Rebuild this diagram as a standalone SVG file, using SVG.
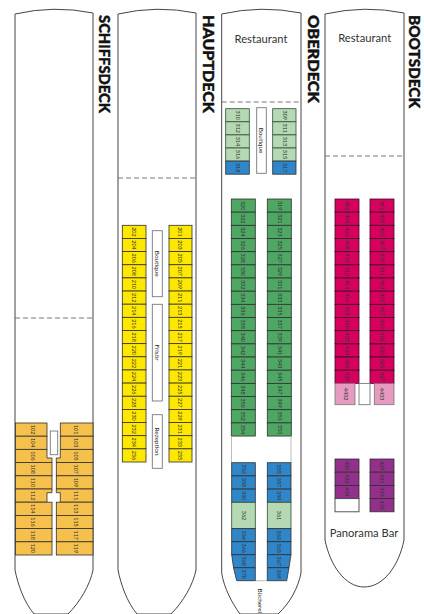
<svg xmlns="http://www.w3.org/2000/svg" width="424" height="614" viewBox="0 0 424 614">
<style>
.hull{fill:#fff;stroke:#444;stroke-width:1}
.dash{fill:none;stroke:#666;stroke-width:.9;stroke-dasharray:5 3}
.box{fill:#fff;stroke:#777;stroke-width:.9}
.inner{fill:none;stroke:#aaa;stroke-width:.8}
.o,.y,.g,.lg,.b,.c,.p,.pk{stroke:#2f2f2f;stroke-width:.8}
.o{fill:#f5c04c}.y{fill:#ffe800}.g{fill:#4fa764}.lg{fill:#b6d9b4;stroke:#2f4f3a}.b{fill:#2f86c9}.c{fill:#d7005f;stroke:#3a0a20}.p{fill:#93308c}.pk{fill:#e79abf;stroke:#777}
text{font-family:"Lato","Liberation Sans",sans-serif}
.n{font-size:5.4px;fill:#333;text-anchor:middle}
.l{font-size:6.4px;fill:#222;text-anchor:middle}
.t{font-size:11.2px;fill:#333;text-anchor:middle}
.h{font-size:14.500px;font-weight:900;fill:#111;stroke:#111;stroke-width:.4}
</style>
<g id="hulls">
<path class="hull" d="M15 14Q54 5 93 13V570C90 585 80 602 68 614H34C24 602 18 585 15 570Z"/>
<path class="hull" d="M118 14Q157 5 196 13V570C193 585 183 602 171 614H137C127 602 121 585 118 570Z"/>
<path class="hull" d="M221.700 14Q261 5 301 13V573C298 588 290 603 278 614H240C232 603 224 588 221.700 573Z"/>
<path class="hull" d="M325 14Q365 5 404 13V540C399 565 384 587 364 587C345 587 330 565 325 540Z"/>
<path class="dash" d="M15 318H93M118 178H196M221.700 102H301M325 156H404"/>
</g>
<g id="deck-titles">
<text id="t-schiffsdeck" class="h" transform="translate(99,15) rotate(90)" textLength="98" lengthAdjust="spacingAndGlyphs">SCHIFFSDECK</text>
<text id="t-hauptdeck" class="h" transform="translate(203,15) rotate(90)" textLength="98" lengthAdjust="spacingAndGlyphs">HAUPTDECK</text>
<text id="t-oberdeck" class="h" transform="translate(307.500,15) rotate(90)" textLength="88" lengthAdjust="spacingAndGlyphs">OBERDECK</text>
<text id="t-bootsdeck" class="h" transform="translate(409,15) rotate(90)" textLength="93" lengthAdjust="spacingAndGlyphs">BOOTSDECK</text>
</g>
<g id="schiffsdeck">
<g id="r102"><rect class="o" x="15.500" y="423" width="31.500" height="13.200"/><text class="n" transform="translate(33,429.600) rotate(90)" y="2">102</text></g>
<g id="r104"><rect class="o" x="15.500" y="436.200" width="31.500" height="13.200"/><text class="n" transform="translate(33,442.800) rotate(90)" y="2">104</text></g>
<g id="r106"><polygon class="o" points="15.500,449.400 47,449.400 47,458 52,458 52,462.600 15.500,462.600"/><text class="n" transform="translate(33,456) rotate(90)" y="2">106</text></g>
<g id="r108"><rect class="o" x="15.500" y="462.600" width="36.500" height="13.200"/><text class="n" transform="translate(33,469.200) rotate(90)" y="2">108</text></g>
<g id="r110"><rect class="o" x="15.500" y="475.800" width="36.500" height="13.200"/><text class="n" transform="translate(33,482.400) rotate(90)" y="2">110</text></g>
<g id="r112"><polygon class="o" points="15.500,489 52,489 52,492.700 47,492.700 47,502.200 15.500,502.200"/><text class="n" transform="translate(33,495.600) rotate(90)" y="2">112</text></g>
<g id="r114"><rect class="o" x="15.500" y="502.200" width="36.500" height="13.200"/><text class="n" transform="translate(33,508.800) rotate(90)" y="2">114</text></g>
<g id="r116"><rect class="o" x="15.500" y="515.400" width="36.500" height="13.200"/><text class="n" transform="translate(33,522) rotate(90)" y="2">116</text></g>
<g id="r118"><rect class="o" x="15.500" y="528.600" width="36.500" height="13.200"/><text class="n" transform="translate(33,535.200) rotate(90)" y="2">118</text></g>
<g id="r120"><rect class="o" x="15.500" y="541.800" width="36.500" height="13.200"/><text class="n" transform="translate(33,548.400) rotate(90)" y="2">120</text></g>
<g id="r101"><rect class="o" x="60.300" y="423" width="32.700" height="13.200"/><text class="n" transform="translate(76,429.600) rotate(90)" y="2">101</text></g>
<g id="r103"><rect class="o" x="60.300" y="436.200" width="32.700" height="13.200"/><text class="n" transform="translate(76,442.800) rotate(90)" y="2">103</text></g>
<g id="r105"><polygon class="o" points="60.300,449.400 93,449.400 93,462.600 56.300,462.600 56.300,458 60.300,458"/><text class="n" transform="translate(76,456) rotate(90)" y="2">105</text></g>
<g id="r107"><rect class="o" x="56.300" y="462.600" width="36.700" height="13.200"/><text class="n" transform="translate(76,469.200) rotate(90)" y="2">107</text></g>
<g id="r109"><rect class="o" x="56.300" y="475.800" width="36.700" height="13.200"/><text class="n" transform="translate(76,482.400) rotate(90)" y="2">109</text></g>
<g id="r111"><polygon class="o" points="56.300,489 93,489 93,502.200 60.300,502.200 60.300,492.700 56.300,492.700"/><text class="n" transform="translate(76,495.600) rotate(90)" y="2">111</text></g>
<g id="r113"><rect class="o" x="56.300" y="502.200" width="36.700" height="13.200"/><text class="n" transform="translate(76,508.800) rotate(90)" y="2">113</text></g>
<g id="r115"><rect class="o" x="56.300" y="515.400" width="36.700" height="13.200"/><text class="n" transform="translate(76,522) rotate(90)" y="2">115</text></g>
<g id="r117"><rect class="o" x="56.300" y="528.600" width="36.700" height="13.200"/><text class="n" transform="translate(76,535.200) rotate(90)" y="2">117</text></g>
<g id="r119"><rect class="o" x="56.300" y="541.800" width="36.700" height="13.200"/><text class="n" transform="translate(76,548.400) rotate(90)" y="2">119</text></g>
<rect class="box" x="50.300" y="431" width="7.400" height="23.700"/>
</g>
<g id="hauptdeck">
<g id="r202"><rect class="y" x="122.300" y="225.300" width="23.700" height="13.150"/><text class="n" transform="translate(134,231.900) rotate(90)" y="2">202</text></g>
<g id="r204"><rect class="y" x="122.300" y="238.450" width="23.700" height="13.150"/><text class="n" transform="translate(134,245) rotate(90)" y="2">204</text></g>
<g id="r206"><rect class="y" x="122.300" y="251.600" width="23.700" height="13.150"/><text class="n" transform="translate(134,258.200) rotate(90)" y="2">206</text></g>
<g id="r208"><rect class="y" x="122.300" y="264.750" width="23.700" height="13.150"/><text class="n" transform="translate(134,271.300) rotate(90)" y="2">208</text></g>
<g id="r210"><rect class="y" x="122.300" y="277.900" width="23.700" height="13.150"/><text class="n" transform="translate(134,284.500) rotate(90)" y="2">210</text></g>
<g id="r212"><rect class="y" x="122.300" y="291.050" width="23.700" height="13.150"/><text class="n" transform="translate(134,297.600) rotate(90)" y="2">212</text></g>
<g id="r214"><rect class="y" x="122.300" y="304.200" width="23.700" height="13.150"/><text class="n" transform="translate(134,310.800) rotate(90)" y="2">214</text></g>
<g id="r216"><rect class="y" x="122.300" y="317.350" width="23.700" height="13.150"/><text class="n" transform="translate(134,323.900) rotate(90)" y="2">216</text></g>
<g id="r218"><rect class="y" x="122.300" y="330.500" width="23.700" height="13.150"/><text class="n" transform="translate(134,337.100) rotate(90)" y="2">218</text></g>
<g id="r220"><rect class="y" x="122.300" y="343.650" width="23.700" height="13.150"/><text class="n" transform="translate(134,350.200) rotate(90)" y="2">220</text></g>
<g id="r222"><rect class="y" x="122.300" y="356.800" width="23.700" height="13.150"/><text class="n" transform="translate(134,363.400) rotate(90)" y="2">222</text></g>
<g id="r224"><rect class="y" x="122.300" y="369.950" width="23.700" height="13.150"/><text class="n" transform="translate(134,376.500) rotate(90)" y="2">224</text></g>
<g id="r226"><rect class="y" x="122.300" y="383.100" width="23.700" height="13.150"/><text class="n" transform="translate(134,389.700) rotate(90)" y="2">226</text></g>
<g id="r228"><rect class="y" x="122.300" y="396.250" width="23.700" height="13.150"/><text class="n" transform="translate(134,402.800) rotate(90)" y="2">228</text></g>
<g id="r230"><rect class="y" x="122.300" y="409.400" width="23.700" height="13.150"/><text class="n" transform="translate(134,416) rotate(90)" y="2">230</text></g>
<g id="r232"><rect class="y" x="122.300" y="422.550" width="23.700" height="13.150"/><text class="n" transform="translate(134,429.100) rotate(90)" y="2">232</text></g>
<g id="r234"><rect class="y" x="122.300" y="435.700" width="23.700" height="13.150"/><text class="n" transform="translate(134,442.300) rotate(90)" y="2">234</text></g>
<g id="r236"><rect class="y" x="122.300" y="448.850" width="23.700" height="13.150"/><text class="n" transform="translate(134,455.400) rotate(90)" y="2">236</text></g>
<g id="r201"><rect class="y" x="169" y="225.300" width="23" height="13.150"/><text class="n" transform="translate(180,231.900) rotate(90)" y="2">201</text></g>
<g id="r203"><rect class="y" x="169" y="238.450" width="23" height="13.150"/><text class="n" transform="translate(180,245) rotate(90)" y="2">203</text></g>
<g id="r205"><rect class="y" x="169" y="251.600" width="23" height="13.150"/><text class="n" transform="translate(180,258.200) rotate(90)" y="2">205</text></g>
<g id="r207"><rect class="y" x="169" y="264.750" width="23" height="13.150"/><text class="n" transform="translate(180,271.300) rotate(90)" y="2">207</text></g>
<g id="r209"><rect class="y" x="169" y="277.900" width="23" height="13.150"/><text class="n" transform="translate(180,284.500) rotate(90)" y="2">209</text></g>
<g id="r211"><rect class="y" x="169" y="291.050" width="23" height="13.150"/><text class="n" transform="translate(180,297.600) rotate(90)" y="2">211</text></g>
<g id="r213"><rect class="y" x="169" y="304.200" width="23" height="13.150"/><text class="n" transform="translate(180,310.800) rotate(90)" y="2">213</text></g>
<g id="r215"><rect class="y" x="169" y="317.350" width="23" height="13.150"/><text class="n" transform="translate(180,323.900) rotate(90)" y="2">215</text></g>
<g id="r217"><rect class="y" x="169" y="330.500" width="23" height="13.150"/><text class="n" transform="translate(180,337.100) rotate(90)" y="2">217</text></g>
<g id="r219"><rect class="y" x="169" y="343.650" width="23" height="13.150"/><text class="n" transform="translate(180,350.200) rotate(90)" y="2">219</text></g>
<g id="r221"><rect class="y" x="169" y="356.800" width="23" height="13.150"/><text class="n" transform="translate(180,363.400) rotate(90)" y="2">221</text></g>
<g id="r223"><rect class="y" x="169" y="369.950" width="23" height="13.150"/><text class="n" transform="translate(180,376.500) rotate(90)" y="2">223</text></g>
<g id="r225"><rect class="y" x="169" y="383.100" width="23" height="13.150"/><text class="n" transform="translate(180,389.700) rotate(90)" y="2">225</text></g>
<g id="r227"><rect class="y" x="169" y="396.250" width="23" height="13.150"/><text class="n" transform="translate(180,402.800) rotate(90)" y="2">227</text></g>
<g id="r229"><rect class="y" x="169" y="409.400" width="23" height="13.150"/><text class="n" transform="translate(180,416) rotate(90)" y="2">229</text></g>
<g id="r231"><rect class="y" x="169" y="422.550" width="23" height="13.150"/><text class="n" transform="translate(180,429.100) rotate(90)" y="2">231</text></g>
<g id="r233"><rect class="y" x="169" y="435.700" width="23" height="13.150"/><text class="n" transform="translate(180,442.300) rotate(90)" y="2">233</text></g>
<g id="r235"><rect class="y" x="169" y="448.850" width="23" height="13.150"/><text class="n" transform="translate(180,455.400) rotate(90)" y="2">235</text></g>
<g id="boutique-2"><rect class="box" x="152.300" y="230.700" width="10" height="66"/><text class="l" transform="translate(157.300,263.700) rotate(90)" y="2.300">Boutique</text></g>
<g id="frisoer"><rect class="box" x="152.300" y="304.300" width="10" height="96.700"/><text class="l" transform="translate(157.300,352.500) rotate(90)" y="2.300">Frisör</text></g>
<g id="rezeption"><rect class="box" x="152.300" y="414.700" width="10" height="53.600"/><text class="l" transform="translate(157.300,441.500) rotate(90)" y="2.300">Rezeption</text></g>
</g>
<g id="oberdeck">
<text id="restaurant-3" class="t" x="261" y="43">Restaurant</text>
<g id="r310"><rect class="lg" x="225.700" y="108.700" width="23.600" height="13.100"/><text class="n" transform="translate(237.500,115.200) rotate(90)" y="2">310</text></g>
<g id="r312"><rect class="lg" x="225.700" y="121.800" width="23.600" height="13.100"/><text class="n" transform="translate(237.500,128.300) rotate(90)" y="2">312</text></g>
<g id="r314"><rect class="lg" x="225.700" y="134.900" width="23.600" height="13.100"/><text class="n" transform="translate(237.500,141.400) rotate(90)" y="2">314</text></g>
<g id="r316"><rect class="lg" x="225.700" y="148" width="23.600" height="13.100"/><text class="n" transform="translate(237.500,154.500) rotate(90)" y="2">316</text></g>
<g id="r318"><rect class="b" x="225.700" y="161.100" width="23.600" height="13.100"/><text class="n" transform="translate(237.500,167.600) rotate(90)" y="2">318</text></g>
<g id="r309"><rect class="lg" x="272.700" y="108.700" width="23.300" height="13.100"/><text class="n" transform="translate(284.500,115.200) rotate(90)" y="2">309</text></g>
<g id="r311"><rect class="lg" x="272.700" y="121.800" width="23.300" height="13.100"/><text class="n" transform="translate(284.500,128.300) rotate(90)" y="2">311</text></g>
<g id="r313"><rect class="lg" x="272.700" y="134.900" width="23.300" height="13.100"/><text class="n" transform="translate(284.500,141.400) rotate(90)" y="2">313</text></g>
<g id="r315"><rect class="lg" x="272.700" y="148" width="23.300" height="13.100"/><text class="n" transform="translate(284.500,154.500) rotate(90)" y="2">315</text></g>
<g id="r317"><rect class="b" x="272.700" y="161.100" width="23.300" height="13.100"/><text class="n" transform="translate(284.500,167.600) rotate(90)" y="2">317</text></g>
<g id="boutique-3"><rect class="box" x="256.700" y="107.700" width="9.600" height="65.600"/><text class="l" transform="translate(261.500,140.500) rotate(90)" y="2.300">Boutique</text></g>
<g id="r320"><rect class="g" x="231.300" y="199" width="24" height="13.170"/><text class="n" transform="translate(243.300,205.600) rotate(90)" y="2">320</text></g>
<g id="r322"><rect class="g" x="231.300" y="212.170" width="24" height="13.170"/><text class="n" transform="translate(243.300,218.800) rotate(90)" y="2">322</text></g>
<g id="r324"><rect class="g" x="231.300" y="225.340" width="24" height="13.170"/><text class="n" transform="translate(243.300,231.900) rotate(90)" y="2">324</text></g>
<g id="r326"><rect class="g" x="231.300" y="238.510" width="24" height="13.170"/><text class="n" transform="translate(243.300,245.100) rotate(90)" y="2">326</text></g>
<g id="r328"><rect class="g" x="231.300" y="251.680" width="24" height="13.170"/><text class="n" transform="translate(243.300,258.300) rotate(90)" y="2">328</text></g>
<g id="r330"><rect class="g" x="231.300" y="264.850" width="24" height="13.170"/><text class="n" transform="translate(243.300,271.400) rotate(90)" y="2">330</text></g>
<g id="r332"><rect class="g" x="231.300" y="278.020" width="24" height="13.170"/><text class="n" transform="translate(243.300,284.600) rotate(90)" y="2">332</text></g>
<g id="r334"><rect class="g" x="231.300" y="291.190" width="24" height="13.170"/><text class="n" transform="translate(243.300,297.800) rotate(90)" y="2">334</text></g>
<g id="r336"><rect class="g" x="231.300" y="304.360" width="24" height="13.170"/><text class="n" transform="translate(243.300,310.900) rotate(90)" y="2">336</text></g>
<g id="r338"><rect class="g" x="231.300" y="317.530" width="24" height="13.170"/><text class="n" transform="translate(243.300,324.100) rotate(90)" y="2">338</text></g>
<g id="r340"><rect class="g" x="231.300" y="330.700" width="24" height="13.170"/><text class="n" transform="translate(243.300,337.300) rotate(90)" y="2">340</text></g>
<g id="r342"><rect class="g" x="231.300" y="343.870" width="24" height="13.170"/><text class="n" transform="translate(243.300,350.500) rotate(90)" y="2">342</text></g>
<g id="r344"><rect class="g" x="231.300" y="357.040" width="24" height="13.170"/><text class="n" transform="translate(243.300,363.600) rotate(90)" y="2">344</text></g>
<g id="r346"><rect class="g" x="231.300" y="370.210" width="24" height="13.170"/><text class="n" transform="translate(243.300,376.800) rotate(90)" y="2">346</text></g>
<g id="r348"><rect class="g" x="231.300" y="383.380" width="24" height="13.170"/><text class="n" transform="translate(243.300,390) rotate(90)" y="2">348</text></g>
<g id="r350"><rect class="g" x="231.300" y="396.550" width="24" height="13.170"/><text class="n" transform="translate(243.300,403.100) rotate(90)" y="2">350</text></g>
<g id="r352"><rect class="g" x="231.300" y="409.720" width="24" height="13.170"/><text class="n" transform="translate(243.300,416.300) rotate(90)" y="2">352</text></g>
<g id="r354"><rect class="g" x="231.300" y="422.890" width="24" height="13.170"/><text class="n" transform="translate(243.300,429.500) rotate(90)" y="2">354</text></g>
<g id="r319"><rect class="g" x="267.300" y="199" width="24" height="13.170"/><text class="n" transform="translate(280,205.600) rotate(90)" y="2">319</text></g>
<g id="r321"><rect class="g" x="267.300" y="212.170" width="24" height="13.170"/><text class="n" transform="translate(280,218.800) rotate(90)" y="2">321</text></g>
<g id="r323"><rect class="g" x="267.300" y="225.340" width="24" height="13.170"/><text class="n" transform="translate(280,231.900) rotate(90)" y="2">323</text></g>
<g id="r325"><rect class="g" x="267.300" y="238.510" width="24" height="13.170"/><text class="n" transform="translate(280,245.100) rotate(90)" y="2">325</text></g>
<g id="r327"><rect class="g" x="267.300" y="251.680" width="24" height="13.170"/><text class="n" transform="translate(280,258.300) rotate(90)" y="2">327</text></g>
<g id="r329"><rect class="g" x="267.300" y="264.850" width="24" height="13.170"/><text class="n" transform="translate(280,271.400) rotate(90)" y="2">329</text></g>
<g id="r331"><rect class="g" x="267.300" y="278.020" width="24" height="13.170"/><text class="n" transform="translate(280,284.600) rotate(90)" y="2">331</text></g>
<g id="r333"><rect class="g" x="267.300" y="291.190" width="24" height="13.170"/><text class="n" transform="translate(280,297.800) rotate(90)" y="2">333</text></g>
<g id="r335"><rect class="g" x="267.300" y="304.360" width="24" height="13.170"/><text class="n" transform="translate(280,310.900) rotate(90)" y="2">335</text></g>
<g id="r337"><rect class="g" x="267.300" y="317.530" width="24" height="13.170"/><text class="n" transform="translate(280,324.100) rotate(90)" y="2">337</text></g>
<g id="r339"><rect class="g" x="267.300" y="330.700" width="24" height="13.170"/><text class="n" transform="translate(280,337.300) rotate(90)" y="2">339</text></g>
<g id="r341"><rect class="g" x="267.300" y="343.870" width="24" height="13.170"/><text class="n" transform="translate(280,350.500) rotate(90)" y="2">341</text></g>
<g id="r343"><rect class="g" x="267.300" y="357.040" width="24" height="13.170"/><text class="n" transform="translate(280,363.600) rotate(90)" y="2">343</text></g>
<g id="r345"><rect class="g" x="267.300" y="370.210" width="24" height="13.170"/><text class="n" transform="translate(280,376.800) rotate(90)" y="2">345</text></g>
<g id="r347"><rect class="g" x="267.300" y="383.380" width="24" height="13.170"/><text class="n" transform="translate(280,390) rotate(90)" y="2">347</text></g>
<g id="r349"><rect class="g" x="267.300" y="396.550" width="24" height="13.170"/><text class="n" transform="translate(280,403.100) rotate(90)" y="2">349</text></g>
<g id="r351"><rect class="g" x="267.300" y="409.720" width="24" height="13.170"/><text class="n" transform="translate(280,416.300) rotate(90)" y="2">351</text></g>
<g id="r353"><rect class="g" x="267.300" y="422.890" width="24" height="13.170"/><text class="n" transform="translate(280,429.500) rotate(90)" y="2">353</text></g>
<path class="inner" d="M231.500 436V463M291 436V463M255.300 580.700H267.300"/>
<g id="r356"><rect class="b" x="231.700" y="462.700" width="23.600" height="13.200"/><text class="n" transform="translate(243.500,469.300) rotate(90)" y="2">356</text></g>
<g id="r358"><rect class="b" x="231.700" y="475.900" width="23.600" height="13.200"/><text class="n" transform="translate(243.500,482.500) rotate(90)" y="2">358</text></g>
<g id="r360"><rect class="b" x="231.700" y="489.100" width="23.600" height="13.200"/><text class="n" transform="translate(243.500,495.700) rotate(90)" y="2">360</text></g>
<g id="r362"><rect class="lg" x="231.700" y="502.300" width="23.600" height="26.400"/><text class="n" transform="translate(243.500,515.500) rotate(90)" y="2">362</text></g>
<g id="r364"><rect class="b" x="231.700" y="528.700" width="23.600" height="13"/><text class="n" transform="translate(243.500,535.200) rotate(90)" y="2">364</text></g>
<g id="r366"><rect class="b" x="231.700" y="541.700" width="23.600" height="13"/><text class="n" transform="translate(243.500,548.200) rotate(90)" y="2">366</text></g>
<g id="r368"><polygon class="b" points="231.700,554.700 255.300,554.700 255.300,567.700 233.500,567.700"/><text class="n" transform="translate(243.500,561.200) rotate(90)" y="2">368</text></g>
<g id="r370"><polygon class="b" points="233.500,567.700 255.300,567.700 255.300,580.700 236.700,580.700"/><text class="n" transform="translate(243.500,574.200) rotate(90)" y="2">370</text></g>
<g id="r355"><rect class="b" x="267.300" y="462.700" width="23.700" height="13.200"/><text class="n" transform="translate(279,469.300) rotate(90)" y="2">355</text></g>
<g id="r357"><rect class="b" x="267.300" y="475.900" width="23.700" height="13.200"/><text class="n" transform="translate(279,482.500) rotate(90)" y="2">357</text></g>
<g id="r359"><rect class="b" x="267.300" y="489.100" width="23.700" height="13.200"/><text class="n" transform="translate(279,495.700) rotate(90)" y="2">359</text></g>
<g id="r361"><rect class="lg" x="267.300" y="502.300" width="23.700" height="26.400"/><text class="n" transform="translate(279,515.500) rotate(90)" y="2">361</text></g>
<g id="r363"><rect class="b" x="267.300" y="528.700" width="23.700" height="13"/><text class="n" transform="translate(279,535.200) rotate(90)" y="2">363</text></g>
<g id="r365"><rect class="b" x="267.300" y="541.700" width="23.700" height="13"/><text class="n" transform="translate(279,548.200) rotate(90)" y="2">365</text></g>
<g id="r367"><polygon class="b" points="267.300,554.700 291,554.700 289,567.700 267.300,567.700"/><text class="n" transform="translate(279,561.200) rotate(90)" y="2">367</text></g>
<g id="r369"><polygon class="b" points="267.300,567.700 289,567.700 286.700,580.700 267.300,580.700"/><text class="n" transform="translate(279,574.200) rotate(90)" y="2">369</text></g>
<text id="buecherei" class="l" transform="translate(260.700,588.500) rotate(90)" y="2.300" style="text-anchor:start">Bücherei</text>
</g>
<g id="bootsdeck">
<text id="restaurant-4" class="t" x="364.700" y="42">Restaurant</text>
<g id="r402"><rect class="c" x="335" y="199" width="24" height="13.170"/><text class="n" transform="translate(347,205.600) rotate(90)" y="2">402</text></g>
<g id="r404"><rect class="c" x="335" y="212.170" width="24" height="13.170"/><text class="n" transform="translate(347,218.800) rotate(90)" y="2">404</text></g>
<g id="r406"><rect class="c" x="335" y="225.340" width="24" height="13.170"/><text class="n" transform="translate(347,231.900) rotate(90)" y="2">406</text></g>
<g id="r408"><rect class="c" x="335" y="238.510" width="24" height="13.170"/><text class="n" transform="translate(347,245.100) rotate(90)" y="2">408</text></g>
<g id="r410"><rect class="c" x="335" y="251.680" width="24" height="13.170"/><text class="n" transform="translate(347,258.300) rotate(90)" y="2">410</text></g>
<g id="r412"><rect class="c" x="335" y="264.850" width="24" height="13.170"/><text class="n" transform="translate(347,271.400) rotate(90)" y="2">412</text></g>
<g id="r414"><rect class="c" x="335" y="278.020" width="24" height="13.170"/><text class="n" transform="translate(347,284.600) rotate(90)" y="2">414</text></g>
<g id="r416"><rect class="c" x="335" y="291.190" width="24" height="13.170"/><text class="n" transform="translate(347,297.800) rotate(90)" y="2">416</text></g>
<g id="r418"><rect class="c" x="335" y="304.360" width="24" height="13.170"/><text class="n" transform="translate(347,310.900) rotate(90)" y="2">418</text></g>
<g id="r420"><rect class="c" x="335" y="317.530" width="24" height="13.170"/><text class="n" transform="translate(347,324.100) rotate(90)" y="2">420</text></g>
<g id="r422"><rect class="c" x="335" y="330.700" width="24" height="13.170"/><text class="n" transform="translate(347,337.300) rotate(90)" y="2">422</text></g>
<g id="r424"><rect class="c" x="335" y="343.870" width="24" height="13.170"/><text class="n" transform="translate(347,350.500) rotate(90)" y="2">424</text></g>
<g id="r426"><rect class="c" x="335" y="357.040" width="24" height="13.170"/><text class="n" transform="translate(347,363.600) rotate(90)" y="2">426</text></g>
<g id="r428"><rect class="c" x="335" y="370.210" width="24" height="13.170"/><text class="n" transform="translate(347,376.800) rotate(90)" y="2">428</text></g>
<g id="r401"><rect class="c" x="370" y="199" width="24" height="13.170"/><text class="n" transform="translate(382,205.600) rotate(90)" y="2">401</text></g>
<g id="r403"><rect class="c" x="370" y="212.170" width="24" height="13.170"/><text class="n" transform="translate(382,218.800) rotate(90)" y="2">403</text></g>
<g id="r405"><rect class="c" x="370" y="225.340" width="24" height="13.170"/><text class="n" transform="translate(382,231.900) rotate(90)" y="2">405</text></g>
<g id="r407"><rect class="c" x="370" y="238.510" width="24" height="13.170"/><text class="n" transform="translate(382,245.100) rotate(90)" y="2">407</text></g>
<g id="r409"><rect class="c" x="370" y="251.680" width="24" height="13.170"/><text class="n" transform="translate(382,258.300) rotate(90)" y="2">409</text></g>
<g id="r411"><rect class="c" x="370" y="264.850" width="24" height="13.170"/><text class="n" transform="translate(382,271.400) rotate(90)" y="2">411</text></g>
<g id="r413"><rect class="c" x="370" y="278.020" width="24" height="13.170"/><text class="n" transform="translate(382,284.600) rotate(90)" y="2">413</text></g>
<g id="r415"><rect class="c" x="370" y="291.190" width="24" height="13.170"/><text class="n" transform="translate(382,297.800) rotate(90)" y="2">415</text></g>
<g id="r417"><rect class="c" x="370" y="304.360" width="24" height="13.170"/><text class="n" transform="translate(382,310.900) rotate(90)" y="2">417</text></g>
<g id="r419"><rect class="c" x="370" y="317.530" width="24" height="13.170"/><text class="n" transform="translate(382,324.100) rotate(90)" y="2">419</text></g>
<g id="r421"><rect class="c" x="370" y="330.700" width="24" height="13.170"/><text class="n" transform="translate(382,337.300) rotate(90)" y="2">421</text></g>
<g id="r423"><rect class="c" x="370" y="343.870" width="24" height="13.170"/><text class="n" transform="translate(382,350.500) rotate(90)" y="2">423</text></g>
<g id="r425"><rect class="c" x="370" y="357.040" width="24" height="13.170"/><text class="n" transform="translate(382,363.600) rotate(90)" y="2">425</text></g>
<g id="r427"><rect class="c" x="370" y="370.210" width="24" height="13.170"/><text class="n" transform="translate(382,376.800) rotate(90)" y="2">427</text></g>
<g id="r4432"><rect class="pk" x="335" y="383.400" width="20" height="21.300"/><text class="n" transform="translate(346,394) rotate(90)" y="2">4432</text></g>
<rect class="box" x="359" y="383.400" width="11" height="21.300"/>
<g id="r4433"><rect class="pk" x="374.300" y="383.400" width="19.700" height="21.300"/><text class="n" transform="translate(382,394) rotate(90)" y="2">4433</text></g>
<g id="r430"><rect class="p" x="335" y="459" width="24" height="13.200"/><text class="n" transform="translate(347,465.600) rotate(90)" y="2">430</text></g>
<g id="r432"><rect class="p" x="335" y="472.200" width="24" height="13.200"/><text class="n" transform="translate(347,478.800) rotate(90)" y="2">432</text></g>
<g id="r434"><rect class="p" x="335" y="485.400" width="24" height="13.200"/><text class="n" transform="translate(347,492) rotate(90)" y="2">434</text></g>
<rect class="box" x="335" y="498.600" width="24" height="13.200" style="stroke:#444"/>
<g id="r429"><rect class="p" x="370" y="459" width="24" height="13.200"/><text class="n" transform="translate(382,465.600) rotate(90)" y="2">429</text></g>
<g id="r431"><rect class="p" x="370" y="472.200" width="24" height="13.200"/><text class="n" transform="translate(382,478.800) rotate(90)" y="2">431</text></g>
<g id="r433"><rect class="p" x="370" y="485.400" width="24" height="13.200"/><text class="n" transform="translate(382,492) rotate(90)" y="2">433</text></g>
<g id="r435"><rect class="p" x="370" y="498.600" width="24" height="13.200"/><text class="n" transform="translate(382,505.200) rotate(90)" y="2">435</text></g>
<text id="panorama" class="t" x="364" y="537">Panorama Bar</text>
</g>
</svg>
